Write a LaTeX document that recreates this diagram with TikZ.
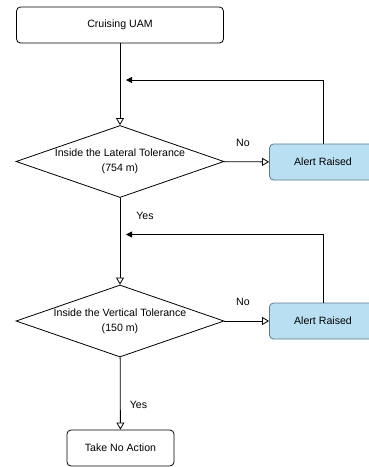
\documentclass[tikz,border=0pt]{standalone}
\usepackage{fontspec}
\setmainfont{Liberation Sans}
\usepackage{tikz}
\usetikzlibrary{shapes.geometric,arrows.meta}

\definecolor{alertfill}{HTML}{B9E0F2}
\definecolor{alertline}{HTML}{5B7A8A}

\begin{document}
\begin{tikzpicture}[x=1pt,y=-1pt,line width=0.8pt,
    font=\fontsize{10.6}{15}\selectfont,
    box/.style={draw,rounded corners=4pt,minimum width=207pt,minimum height=36pt,inner sep=0pt},
    alertbox/.style={draw=alertline,fill=alertfill,rounded corners=4pt,minimum width=107pt,minimum height=36pt,inner sep=0pt},
    decision/.style={draw,diamond,aspect=2.9,minimum width=208pt,minimum height=72pt,inner sep=0pt,align=center},
    flow/.style={-{Triangle[open,length=7pt,width=8pt]}},
    back/.style={-{Triangle[length=6pt,width=6pt]}}]

          \useasboundingbox (0, 0) rectangle (369, 467);

          % Boxes
          \node[box] (cruise) at (120, 25) {Cruising UAM};
          \node[decision] (lateral) at (120, 161.5) {Inside the Lateral Tolerance\\(754 m)};
          \node[alertbox] (alertA) at (323, 162) {Alert Raised};
          \node[decision] (vertical) at (120, 321) {Inside the Vertical Tolerance\\(150 m)};
          \node[alertbox] (alertB) at (323, 321) {Alert Raised};
          \node[box,minimum width=107pt] (noaction) at (120.5, 448) {Take No Action};

          \coordinate (backA) at (126, 80);
          \coordinate (backB) at (126, 234.5);

          % Links
          \draw[flow] (cruise) -- (lateral);
          \draw[flow] (lateral) -- (alertA);
          \draw[flow] (lateral) -- (vertical);
          \draw[flow] (vertical) -- (alertB);
          \draw[flow] (vertical) -- (noaction);
          \draw[back] (alertA.north) |- (backA);
          \draw[back] (alertB.north) |- (backB);

          % Labels
          \node (noA) at (243, 143) {No};
          \node (yesA) at (145, 215.5) {Yes};
          \node (noB) at (243, 302) {No};
          \node (yesB) at (138.5, 405) {Yes};
        \end{tikzpicture}
\end{document}
